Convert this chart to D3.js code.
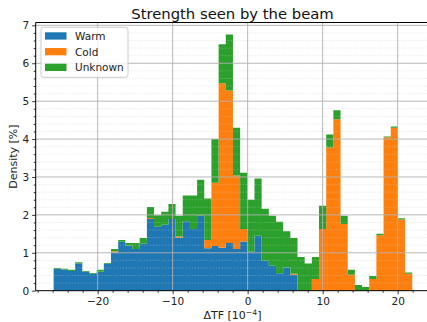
<!DOCTYPE html>
<html>
<head>
<meta charset="utf-8">
<script src="https://cdn.jsdelivr.net/npm/d3@7"></script>
<style>
  body { margin: 0; background: #fff; }
  svg { display: block; font-family: "DejaVu Sans", sans-serif; }
</style>
</head>
<body>
<div id="chart"></div>
<script>
// histogram bins: 50 bins between the data min and max
var binStart = -25.87, binWidth = 0.9564, nBins = 50;

var seriesNames = ['Warm', 'Cold', 'Unknown'];
var seriesColors = ['#1f77b4', '#ff7f0e', '#2ca02c'];

var warm = [0.58,0.56,0.52,0.72,0.50,0.45,0.50,0.71,1.01,1.29,1.19,1.10,1.24,1.89,1.69,1.74,1.89,1.40,1.83,1.63,
            1.98,1.12,1.18,1.13,1.26,1.10,1.30,1.03,1.45,0.79,0.66,0.46,0.61,0.42,0,0,0,0,0,0,
            0,0,0,0,0,0,0,0,0,0];
var cold = [0,0,0,0,0,0,0,0,0.03,0,0,0,0,0.03,0,0,0,0.03,0,0,
            0,0.22,1.67,4.34,4.02,1.94,0.33,0,0,0,0,0,0,0.03,0,0,0.31,1.63,3.78,4.52,
            1.76,0.42,0,0,0.31,1.46,4.05,4.30,1.88,0.45];
var unknown = [0.02,0.02,0.03,0.03,0.02,0.02,0.05,0.02,0.06,0.05,0.07,0.16,0.15,0.29,0.30,0.34,0.40,0.55,0.68,0.88,
               0.95,1.09,1.15,1.03,1.48,1.26,1.48,1.37,1.51,1.37,1.32,1.36,0.96,0.94,0.89,0.72,0.58,0.61,0.34,0.24,
               0.22,0.13,0.15,0.10,0.08,0.04,0.02,0.03,0.03,0.03];

var xTicks = [-20, -10, 0, 10, 20];
var yTicks = [0, 1, 2, 3, 4, 5, 6, 7];

(function(){
  var width = 427, height = 322;

  var svg = d3.select('#chart')
    .append('svg')
    .attr('width', width)
    .attr('height', height);

  var x = d3.scaleLinear().domain([-28.26, 24.34]).range([35.7, 430.2]);
  var y = d3.scaleLinear().domain([0, 7.075]).range([290.7, 22.5]);

  var edges = d3.range(nBins + 1).map(function(i){ return binStart + i * binWidth });

  var table = d3.range(nBins).map(function(i){
    return { i: i, Warm: warm[i], Cold: cold[i], Unknown: unknown[i] }
  });
  var stacked = d3.stack().keys(seriesNames)(table);

  // each stacked layer as one stepped area, so the bars have no seams
  var area = d3.area()
    .curve(d3.curveStepAfter)
    .x(function(d){ return x(d.x) })
    .y0(function(d){ return y(d.lo) })
    .y1(function(d){ return y(d.hi) });

  svg.append('g').selectAll('path')
    .data(stacked)
    .enter().append('path')
    .attr('fill', function(d, k){ return seriesColors[k] })
    .attr('d', function(layer){
      var pts = layer.map(function(d){ return { x: edges[d.data.i], lo: d[0], hi: d[1] } });
      var last = layer[layer.length - 1];
      pts.push({ x: edges[nBins], lo: last[0], hi: last[1] });
      return area(pts);
    });

  // minor grid (y only), dotted
  var grid = svg.append('g');
  grid.selectAll('.minor')
    .data(d3.range(0.2, 7.05, 0.2).filter(function(v){ return Math.abs(v - Math.round(v)) > 0.01 }))
    .enter().append('line')
    .attr('x1', x.range()[0]).attr('x2', width)
    .attr('y1', function(d){ return y(d) }).attr('y2', function(d){ return y(d) })
    .attr('stroke', '#c8c8c8').attr('stroke-opacity', 0.45)
    .attr('stroke-width', 0.8).attr('stroke-dasharray', '1.5,1.5');

  // major grid, drawn over the bars
  grid.selectAll('.hmaj')
    .data(yTicks.slice(1))
    .enter().append('line')
    .attr('x1', x.range()[0]).attr('x2', width)
    .attr('y1', function(d){ return y(d) }).attr('y2', function(d){ return y(d) })
    .attr('stroke', '#b0b0b0').attr('stroke-opacity', 0.9).attr('stroke-width', 1);
  grid.selectAll('.vmaj')
    .data(xTicks)
    .enter().append('line')
    .attr('x1', function(d){ return x(d) }).attr('x2', function(d){ return x(d) })
    .attr('y1', y.range()[1]).attr('y2', y.range()[0])
    .attr('stroke', '#b0b0b0').attr('stroke-opacity', 0.9).attr('stroke-width', 1);

  // axes
  var fmt = d3.format('d');
  var xAxis = svg.append('g')
    .attr('transform', 'translate(0,' + y(0) + ')')
    .call(d3.axisBottom(x).tickValues(xTicks).tickSize(3.5).tickPadding(3).tickFormat(fmt));
  svg.append('g')
    .attr('transform', 'translate(0,' + y(0) + ')')
    .call(d3.axisBottom(x).tickValues(d3.range(-28, 25, 2).filter(function(v){ return v % 10 != 0 })).tickSize(2).tickFormat(''))
    .call(function(g){ g.select('.domain').remove() });

  var yAxis = svg.append('g')
    .attr('transform', 'translate(' + x.range()[0] + ',0)')
    .call(d3.axisLeft(y).tickValues(yTicks).tickSize(3.5).tickPadding(3).tickFormat(fmt));
  svg.append('g')
    .attr('transform', 'translate(' + x.range()[0] + ',0)')
    .call(d3.axisLeft(y).tickValues(d3.range(0.2, 7.05, 0.2).filter(function(v){ return Math.abs(v - Math.round(v)) > 0.01 })).tickSize(2).tickFormat(''))
    .call(function(g){ g.select('.domain').remove() });

  svg.selectAll('.domain').attr('stroke', '#000').attr('stroke-width', 1);
  svg.selectAll('.tick line').attr('stroke', '#000').attr('stroke-width', 0.8);
  svg.selectAll('.tick text').attr('font-size', '10.5px').attr('font-family', '"DejaVu Sans", sans-serif').attr('fill', '#222');
  yAxis.select('.domain').attr('d', 'M0,' + y.range()[0] + 'V' + y.range()[1]);
  xAxis.select('.domain').attr('d', 'M' + x.range()[0] + ',0H' + width);

  // top spine
  svg.append('line')
    .attr('x1', x.range()[0]).attr('x2', width)
    .attr('y1', y.range()[1]).attr('y2', y.range()[1])
    .attr('stroke', '#000').attr('stroke-width', 1);

  // title and labels
  svg.append('text')
    .attr('x', 232.5).attr('y', 18.5)
    .attr('text-anchor', 'middle')
    .attr('font-size', '14.8px')
    .attr('fill', '#111')
    .text('Strength seen by the beam');

  var xl = svg.append('text')
    .attr('x', 232.5).attr('y', 319)
    .attr('text-anchor', 'middle')
    .attr('font-size', '11px')
    .attr('fill', '#222');
  xl.append('tspan').text('ΔTF [10');
  xl.append('tspan').attr('dy', -4.5).attr('font-size', '7.7px').text('−4');
  xl.append('tspan').attr('dy', 4.5).text(']');

  svg.append('text')
    .attr('transform', 'translate(16.5,' + ((y.range()[0] + y.range()[1]) / 2) + ') rotate(-90)')
    .attr('text-anchor', 'middle')
    .attr('font-size', '11px')
    .attr('fill', '#222')
    .text('Density [%]');

  // legend
  var legend = svg.append('g').attr('transform', 'translate(41,27.3)');
  legend.append('rect')
    .attr('width', 87).attr('height', 50).attr('rx', 2.5)
    .attr('fill', '#fff').attr('fill-opacity', 0.8)
    .attr('stroke', '#cccccc').attr('stroke-width', 1);
  var items = legend.selectAll('.item')
    .data(seriesNames)
    .enter().append('g')
    .attr('transform', function(d, k){ return 'translate(0,' + (k * 15.7) + ')' });
  items.append('rect')
    .attr('x', 4).attr('y', 5).attr('width', 21.5).attr('height', 7.3)
    .attr('fill', function(d, k){ return seriesColors[k] });
  items.append('text')
    .attr('x', 34).attr('y', 12.8)
    .attr('font-size', '10.5px')
    .attr('fill', '#222')
    .text(function(d){ return d });
})()
</script>
</body>
</html>
